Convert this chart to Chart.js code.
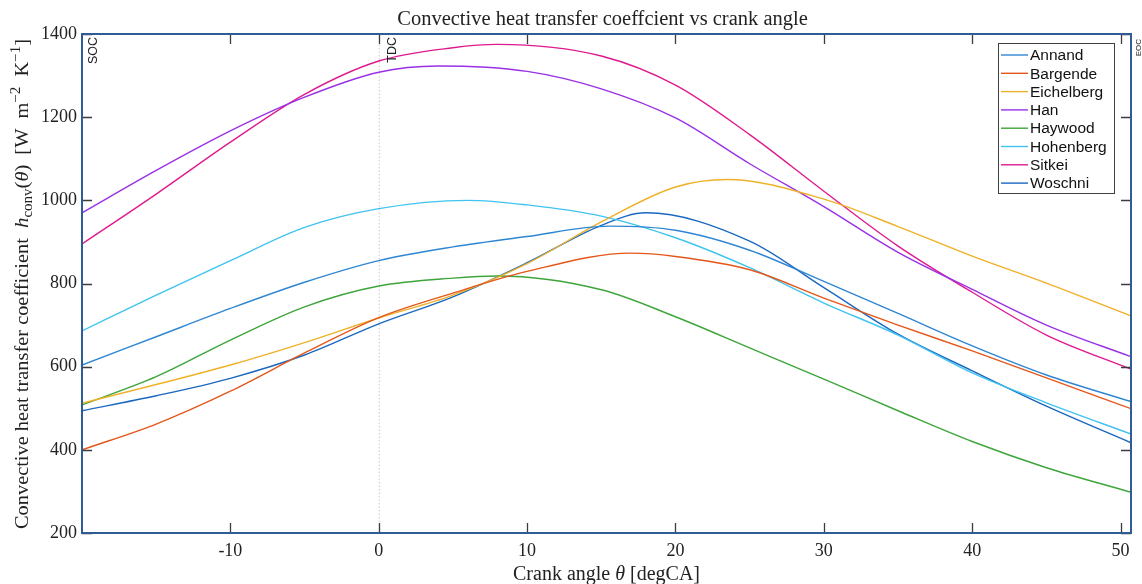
<!DOCTYPE html>
<html>
<head>
<meta charset="utf-8">
<script src="https://cdn.jsdelivr.net/npm/chart.js@4.4.0/dist/chart.umd.min.js"></script>
<style>
    html, body { margin: 0; padding: 0; background: #ffffff; }
    #wrap { width: 1142px; height: 584px; position: relative; }
</style>
</head>
<body>
<div id="wrap"><canvas id="chart-1"></canvas></div>
<script>
// gia tri doc tu hinh, theo goc quay truc khuyu
var angle = [-20, -15, -10, -5, 0, 5, 10, 15, 20, 25, 30, 35, 40, 45, 50.7];

var annand     = [604, 672, 740, 803, 855, 888, 913, 934, 928, 880, 805, 728, 650, 580, 516];
var bargende   = [400, 462, 541, 633, 718, 777, 829, 864, 865, 833, 765, 700, 638, 573, 499];
var eichelberg = [512, 557, 604, 658, 717, 772, 848, 948, 1032, 1047, 1003, 937, 866, 801, 722];
var han        = [970, 1072, 1167, 1248, 1308, 1322, 1310, 1268, 1198, 1088, 985, 875, 786, 700, 624];
var haywood    = [508, 576, 664, 744, 794, 813, 817, 785, 720, 645, 570, 494, 420, 357, 298];
var hohenberg  = [686, 772, 855, 935, 980, 997, 989, 962, 910, 838, 753, 676, 585, 513, 438];
var sitkei     = [895, 1015, 1140, 1255, 1335, 1367, 1374, 1347, 1277, 1158, 1022, 890, 779, 676, 594];
var woschni    = [494, 530, 572, 628, 703, 768, 850, 940, 964, 902, 790, 678, 590, 505, 417];

// dinh cua tung duong (goc, gia tri)
var peakAngle = [15.5, 17, 23.5, 4, 8, 6, 8, 18];
var peakH     = [938, 873, 1050, 1323, 818, 1000, 1375, 970];

var names  = ["Annand", "Bargende", "Eichelberg", "Han", "Haywood", "Hohenberg", "Sitkei", "Woschni"];
var colors = ["#2f86d2", "#e4571b", "#efb12a", "#9a30e6", "#3da53a", "#3fc3f0", "#df1a8f", "#1a68c0"];
var series = [annand, bargende, eichelberg, han, haywood, hohenberg, sitkei, woschni];

var xTicks = [-10, 0, 10, 20, 30, 40, 50];

// diem dinh thay cho diem luoi sat ben no
function buildPoints(values, i) {
    var pts = [];
    angle.forEach(function (a, k) {
        if (Math.abs(a - peakAngle[i]) > 2) pts.push({ x: a, y: values[k] });
    });
    pts.push({ x: peakAngle[i], y: peakH[i] });
    pts.sort(function (p, q) { return p.x - q.x; });
    return pts;
}

var serif = "'Liberation Serif', 'DejaVu Serif', serif";
var sans = "'Liberation Sans', Arial, sans-serif";

// khung, vach chia, nhan, chu thich
var decor = {
    id: 'decor',
    beforeDatasetsDraw: function (chart) {
        var ctx = chart.ctx, a = chart.chartArea;
        var x0 = chart.scales.x.getPixelForValue(0);
        ctx.save();
        ctx.strokeStyle = '#c8c8c8';
        ctx.lineWidth = 1;
        ctx.setLineDash([1.5, 2]);
        ctx.beginPath();
        ctx.moveTo(x0 + 0.5, a.top);
        ctx.lineTo(x0 + 0.5, a.bottom);
        ctx.stroke();
        ctx.restore();
    },
    afterDraw: function (chart) {
        var ctx = chart.ctx, a = chart.chartArea;
        var sx = chart.scales.x, sy = chart.scales.y;
        ctx.save();

        // vach chia huong vao trong
        ctx.strokeStyle = '#3c3c3c';
        ctx.lineWidth = 1.3;
        ctx.beginPath();
        xTicks.forEach(function (t) {
            var px = Math.round(sx.getPixelForValue(t)) + 0.5;
            ctx.moveTo(px, a.bottom); ctx.lineTo(px, a.bottom - 10);
            ctx.moveTo(px, a.top); ctx.lineTo(px, a.top + 10);
        });
        sy.ticks.forEach(function (t) {
            var py = Math.round(sy.getPixelForValue(t.value)) + 0.5;
            ctx.moveTo(a.left, py); ctx.lineTo(a.left + 10, py);
            ctx.moveTo(a.right, py); ctx.lineTo(a.right - 10, py);
        });
        ctx.stroke();

        // khung
        ctx.strokeStyle = '#2f5b96';
        ctx.lineWidth = 2;
        ctx.strokeRect(a.left, a.top, a.right - a.left, a.bottom - a.top);

        // SOC / TDC / EOC
        function vtext(txt, x, y, size) {
            ctx.save();
            ctx.translate(x, y);
            ctx.rotate(-Math.PI / 2);
            ctx.font = size + 'px ' + sans;
            ctx.fillStyle = '#222';
            ctx.textAlign = 'right';
            ctx.textBaseline = 'alphabetic';
            ctx.fillText(txt, 0, 0);
            ctx.restore();
        }
        vtext('SOC', sx.getPixelForValue(-20) + 15, a.top + 3, 12.5);
        vtext('TDC', sx.getPixelForValue(0) + 17, a.top + 3, 12.5);
        vtext('EOC', sx.getPixelForValue(50.7) + 10, a.top + 5, 8);

        // chu thich
        var lx = 998.5, ly = 43.5, lw = 116, lh = 150;
        ctx.fillStyle = '#ffffff';
        ctx.fillRect(lx, ly, lw, lh);
        ctx.strokeStyle = '#404040';
        ctx.lineWidth = 1;
        ctx.strokeRect(lx, ly, lw, lh);
        ctx.font = '15.5px ' + sans;
        ctx.textBaseline = 'middle';
        ctx.textAlign = 'left';
        chart.data.datasets.forEach(function (ds, i) {
            var yy = 55 + i * 18.3;
            ctx.strokeStyle = ds.borderColor;
            ctx.lineWidth = 1.4;
            ctx.beginPath();
            ctx.moveTo(1001, yy); ctx.lineTo(1028, yy);
            ctx.stroke();
            ctx.fillStyle = '#111';
            ctx.fillText(ds.label, 1030, yy + 1);
        });

        // tieu de
        drawParts(ctx, [{ t: 'Convective heat transfer coeffcient vs crank angle', f: '20.5px ' + serif }],
            (a.left + a.right) / 2 - 4, 25);

        // ten truc x
        var xParts = [
            { t: 'Crank angle ', f: '20px ' + serif },
            { t: 'θ', f: 'italic 20px ' + serif },
            { t: ' [degCA]', f: '20px ' + serif }
        ];
        drawParts(ctx, xParts, (a.left + a.right) / 2, 580);

        // ten truc y (keo gian cho dai ~490px nhu hinh goc)
        ctx.save();
        ctx.translate(28, 284);
        ctx.rotate(-Math.PI / 2);
        var yParts = [
            { t: 'Convective heat transfer coefficient  ', f: '19px ' + serif },
            { t: 'h', f: 'italic 19.5px ' + serif },
            { t: 'conv', f: '14px ' + serif, dy: 4 },
            { t: '(', f: '19px ' + serif },
            { t: 'θ', f: 'italic 19px ' + serif },
            { t: ')  [W  m', f: '19px ' + serif },
            { t: '−2', f: '14px ' + serif, dy: -8 },
            { t: '  K', f: '19px ' + serif },
            { t: '−1', f: '14px ' + serif, dy: -8 },
            { t: ']', f: '19px ' + serif }
        ];
        var total = 0;
        yParts.forEach(function (p) { ctx.font = p.f; total += ctx.measureText(p.t).width; });
        var k = Math.min(1.15, Math.max(1, 490 / total));
        ctx.scale(k, 1);
        drawParts(ctx, yParts, 0, 0);
        ctx.restore();

        ctx.restore();
    }
};

function drawParts(ctx, parts, cx, baseY) {
    var total = 0;
    parts.forEach(function (p) { ctx.font = p.f; p.w = ctx.measureText(p.t).width; total += p.w; });
    var x = cx - total / 2;
    ctx.fillStyle = '#222';
    ctx.textAlign = 'left';
    ctx.textBaseline = 'alphabetic';
    parts.forEach(function (p) {
        ctx.font = p.f;
        ctx.fillText(p.t, x, baseY + (p.dy || 0));
        x += p.w;
    });
}

var ctx = document.getElementById("chart-1").getContext("2d");
var heatChart = new Chart(ctx, {
    type: 'line',
    data: {
        datasets: series.map(function (vals, i) {
            return {
                label: names[i],
                data: buildPoints(vals, i),
                borderColor: colors[i],
                backgroundColor: colors[i],
                borderWidth: 1.4,
                pointRadius: 0,
                cubicInterpolationMode: 'monotone',
                fill: false
            };
        })
    },
    options: {
        responsive: true,
        maintainAspectRatio: false,
        animation: false,
        layout: { padding: { left: 0, right: 11, top: 34, bottom: 0 } },
        scales: {
            x: {
                type: 'linear',
                min: -20,
                max: 50.7,
                afterBuildTicks: function (s) { s.ticks = xTicks.map(function (v) { return { value: v }; }); },
                afterFit: function (s) { s.height = 51; },
                grid: { display: false, drawTicks: false },
                border: { display: false },
                ticks: {
                    font: { family: serif, size: 18 }, color: '#222', padding: 7, maxRotation: 0,
                    callback: function (v) { return String(v); }
                }
            },
            y: {
                min: 200,
                max: 1400,
                afterFit: function (s) { s.width = 82; },
                grid: { display: false, drawTicks: false },
                border: { display: false },
                ticks: {
                    stepSize: 200, font: { family: serif, size: 18 }, color: '#222', padding: 5,
                    callback: function (v) { return String(v); }
                }
            }
        },
        plugins: {
            legend: { display: false },
            tooltip: { enabled: false },
            title: { display: false }
        }
    },
    plugins: [decor]
});
</script>
</body>
</html>
